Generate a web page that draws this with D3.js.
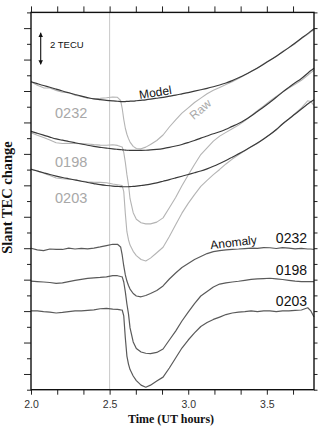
<!DOCTYPE html>
<html><head><meta charset="utf-8">
<script src="https://cdn.jsdelivr.net/npm/d3@7"></script>
<style>html,body{margin:0;padding:0;background:#fff;overflow:hidden}</style>
</head><body>
<svg id="c" width="323" height="426"></svg>
<script>
// ---------------- data (TECU) ----------------
const timeUT = [2.00,2.04,2.08,2.12,2.16,2.20,2.24,2.28,2.32,2.36,2.40,2.44,2.48,2.52,2.55,2.57,2.58,2.59,2.60,2.61,2.62,2.63,2.65,2.67,2.70,2.73,2.76,2.80,2.84,2.88,2.92,2.96,3.00,3.04,3.08,3.12,3.16,3.20,3.24,3.28,3.32,3.36,3.40,3.44,3.48,3.52,3.56,3.60,3.64,3.68,3.72,3.76,3.78,3.80];

const satellites = ["0232", "0198", "0203"];

const model0232 = [19.59,19.47,19.35,19.24,19.12,19.00,18.89,18.78,18.67,18.58,18.50,18.45,18.40,18.37,18.35,18.33,18.33,18.33,18.33,18.34,18.34,18.35,18.36,18.38,18.41,18.44,18.48,18.54,18.60,18.67,18.74,18.82,18.90,18.99,19.08,19.17,19.27,19.38,19.51,19.66,19.84,20.03,20.24,20.46,20.70,20.95,21.21,21.48,21.76,22.05,22.35,22.65,22.81,22.96];
const model0198 = [16.43,16.31,16.19,16.07,15.95,15.87,15.79,15.71,15.63,15.55,15.48,15.42,15.37,15.32,15.29,15.27,15.26,15.25,15.24,15.23,15.23,15.22,15.22,15.22,15.22,15.23,15.25,15.29,15.34,15.41,15.50,15.60,15.72,15.85,16.00,16.14,16.28,16.41,16.57,16.75,16.93,17.15,17.41,17.70,17.98,18.28,18.60,18.93,19.23,19.52,19.80,20.13,20.30,20.45];
const model0203 = [14.02,13.91,13.80,13.69,13.59,13.50,13.42,13.34,13.26,13.18,13.11,13.04,12.99,12.95,12.93,12.92,12.91,12.91,12.91,12.91,12.91,12.92,12.93,12.95,12.99,13.03,13.08,13.16,13.26,13.36,13.47,13.58,13.69,13.80,13.91,14.05,14.21,14.39,14.58,14.79,15.00,15.22,15.45,15.69,15.95,16.23,16.55,16.90,17.22,17.54,17.85,18.17,18.32,18.45];

// anomaly = raw - model
const anomaly0232 = [0.00,-0.11,-0.15,-0.05,-0.08,-0.08,0.01,-0.05,-0.01,-0.04,0.01,0.08,0.17,0.25,0.25,0.08,-0.43,-1.13,-1.70,-2.09,-2.37,-2.60,-2.88,-3.04,-3.09,-3.01,-2.88,-2.69,-2.40,-1.96,-1.58,-1.23,-0.97,-0.72,-0.53,-0.34,-0.22,-0.15,-0.10,-0.07,-0.05,-0.02,0.01,-0.01,0.04,0.03,-0.02,0.04,0.00,-0.04,-0.01,-0.05,-0.05,-0.08];
const anomaly0198 = [-0.09,-0.12,-0.15,-0.18,-0.24,-0.21,-0.12,-0.05,0.02,0.08,0.11,0.14,0.18,0.26,0.25,0.20,0.18,-0.15,-0.78,-1.55,-2.18,-3.07,-3.96,-4.38,-4.60,-4.68,-4.70,-4.63,-4.41,-3.84,-3.27,-2.63,-2.06,-1.52,-1.04,-0.75,-0.47,-0.28,-0.20,-0.15,-0.10,-0.04,0.02,0.05,0.07,0.09,0.05,0.01,-0.04,-0.09,-0.12,-0.13,-0.13,-0.13];
const anomaly0203 = [0.01,0.01,-0.03,-0.06,-0.12,-0.08,-0.03,0.01,0.02,0.05,0.08,0.15,0.17,0.13,0.11,0.08,0.07,-0.31,-1.71,-2.86,-3.37,-3.72,-4.13,-4.42,-4.71,-4.84,-4.71,-4.45,-4.20,-3.62,-2.98,-2.35,-1.84,-1.39,-0.98,-0.73,-0.53,-0.38,-0.22,-0.12,-0.06,-0.03,0.01,-0.03,0.02,0.01,-0.03,0.02,0.01,0.04,0.07,0.21,0.01,-0.37];

const xTickLabels = ["2.0", "2.5", "3.0", "3.5"];
const xTickLabelValues = [2.0, 2.5, 3.0, 3.5];
const eventTime = 2.5;
const scaleBarTECU = 2;

// ---------------- drawing ----------------
const models = {"0232": model0232, "0198": model0198, "0203": model0203};
const anomalies = {"0232": anomaly0232, "0198": anomaly0198, "0203": anomaly0203};
const anomalyOffset = {"0232": 9, "0198": 7, "0203": 5}; // display offset of the anomaly traces

const svg = d3.select("#c");
const L = 31, R = 314, T = 12.4, B = 389.7;
const x = d3.scaleLinear().domain([2.0, 3.8]).range([L, R]);
const y = d3.scaleLinear().domain([0, 24]).range([B, T]);

const SANS = "'Liberation Sans', Arial, sans-serif";
const SERIF = "'Liberation Serif', 'Times New Roman', serif";

// event line
svg.append("line").attr("x1", x(eventTime)).attr("x2", x(eventTime))
  .attr("y1", T).attr("y2", B).attr("stroke", "#c8c8c8").attr("stroke-width", 1);

const smooth = d3.line().x((d, i) => x(timeUT[i])).y(d => y(d)).curve(d3.curveNatural);
const rough = d3.line().x((d, i) => x(timeUT[i])).y(d => y(d)).curve(d3.curveLinear);

satellites.forEach(s => {
  const raw = models[s].map((m, i) => m + anomalies[s][i]);
  svg.append("path").attr("d", rough(raw)).attr("fill", "none")
    .attr("stroke", "#b4b4b4").attr("stroke-width", 1.1).attr("stroke-linejoin", "round");
});
satellites.forEach(s => {
  svg.append("path").attr("d", smooth(models[s])).attr("fill", "none")
    .attr("stroke", "#3a3a3a").attr("stroke-width", 1.2);
});
satellites.forEach(s => {
  const a = anomalies[s].map(v => v + anomalyOffset[s]);
  svg.append("path").attr("d", rough(a)).attr("fill", "none")
    .attr("stroke", "#5a5a5a").attr("stroke-width", 1.2).attr("stroke-linejoin", "round");
});

// axes
const xMinor = d3.range(0, 11).map(i => 2 + i / 6);
const fmt = d => { const k = xTickLabelValues.findIndex(v => Math.abs(v - d) < 1e-6); return k >= 0 ? xTickLabels[k] : ""; };
const gB = svg.append("g").attr("transform", `translate(0,${B})`)
  .call(d3.axisBottom(x).tickValues(xMinor).tickSize(5).tickSizeOuter(0).tickPadding(6).tickFormat(fmt));
const gT = svg.append("g").attr("transform", `translate(0,${T})`)
  .call(d3.axisTop(x).tickValues(xMinor).tickSize(6).tickSizeOuter(0).tickFormat(""));
const yTicks = d3.range(0, 25);
const gL = svg.append("g").attr("transform", `translate(${L},0)`)
  .call(d3.axisLeft(y).tickValues(yTicks).tickSize(7).tickSizeOuter(0).tickFormat(""));
gL.selectAll(".tick line").attr("x2", d => d % 2 ? -7 : -4);
const gR = svg.append("g").attr("transform", `translate(${R},0)`)
  .call(d3.axisRight(y).tickValues(yTicks).tickSize(3.5).tickSizeOuter(0).tickFormat(""));
[gB, gT, gL, gR].forEach(g => {
  g.select(".domain").remove();
  g.selectAll(".tick line").attr("stroke", "#222").attr("stroke-width", 1);
});
gB.selectAll(".tick text").attr("font-family", SANS).attr("font-size", 10.5).attr("fill", "#333");

svg.append("rect").attr("x", L).attr("y", T).attr("width", R - L).attr("height", B - T)
  .attr("fill", "none").attr("stroke", "#111").attr("stroke-width", 1.4);

// scale bar
const defs = svg.append("defs");
["s", "e"].forEach(id => {
  defs.append("marker").attr("id", "ah" + id).attr("viewBox", "0 0 10 10")
    .attr("refX", 9).attr("refY", 5).attr("markerWidth", 4.5).attr("markerHeight", 5.5)
    .attr("orient", "auto-start-reverse").attr("markerUnits", "userSpaceOnUse")
    .append("path").attr("d", "M0,0L10,5L0,10z").attr("fill", "#111");
});
const barX = 40.7, barTop = y(22.7);
svg.append("line").attr("x1", barX).attr("x2", barX)
  .attr("y1", barTop).attr("y2", barTop + (y(0) - y(scaleBarTECU)))
  .attr("stroke", "#111").attr("stroke-width", 1.1)
  .attr("marker-start", "url(#ahs)").attr("marker-end", "url(#ahe)");
svg.append("text").attr("x", 50).attr("y", 47.5).text("2 TECU")
  .attr("font-family", SANS).attr("font-size", 9.5).attr("fill", "#111");

// labels
function lab(txt, px, py, opts) {
  return svg.append("text").text(txt).attr("font-family", SANS)
    .attr("font-size", opts.size).attr("fill", opts.fill)
    .attr("text-anchor", opts.anchor || "middle")
    .attr("transform", `translate(${px},${py}) rotate(${opts.rot || 0})`);
}
lab("Model", 156, 96.5, {size: 12, fill: "#111", rot: -9});
lab("Raw", 203, 112.5, {size: 12, fill: "#aaa", rot: -40});
lab("0232", 55, 118, {size: 14.5, fill: "#a8a8a8", anchor: "start"});
lab("0198", 55, 166.7, {size: 14.5, fill: "#a8a8a8", anchor: "start"});
lab("0203", 55, 203.3, {size: 14.5, fill: "#a8a8a8", anchor: "start"});
lab("Anomaly", 234, 246.5, {size: 12, fill: "#111", rot: -7});
lab("0232", 307, 243.3, {size: 14, fill: "#111", anchor: "end"});
lab("0198", 307, 275, {size: 14, fill: "#111", anchor: "end"});
lab("0203", 307, 305.5, {size: 14, fill: "#111", anchor: "end"});

// axis titles
svg.append("text").text("Slant TEC change").attr("font-family", SERIF).attr("font-weight", "bold")
  .attr("font-size", 14.5).attr("text-anchor", "middle").attr("fill", "#111")
  .attr("transform", "translate(11.5,197.5) rotate(-90)");
svg.append("text").text("Time (UT hours)").attr("font-family", SERIF).attr("font-weight", "bold")
  .attr("font-size", 12).attr("text-anchor", "middle").attr("fill", "#111")
  .attr("x", 171).attr("y", 422.5);
</script>
</body></html>
